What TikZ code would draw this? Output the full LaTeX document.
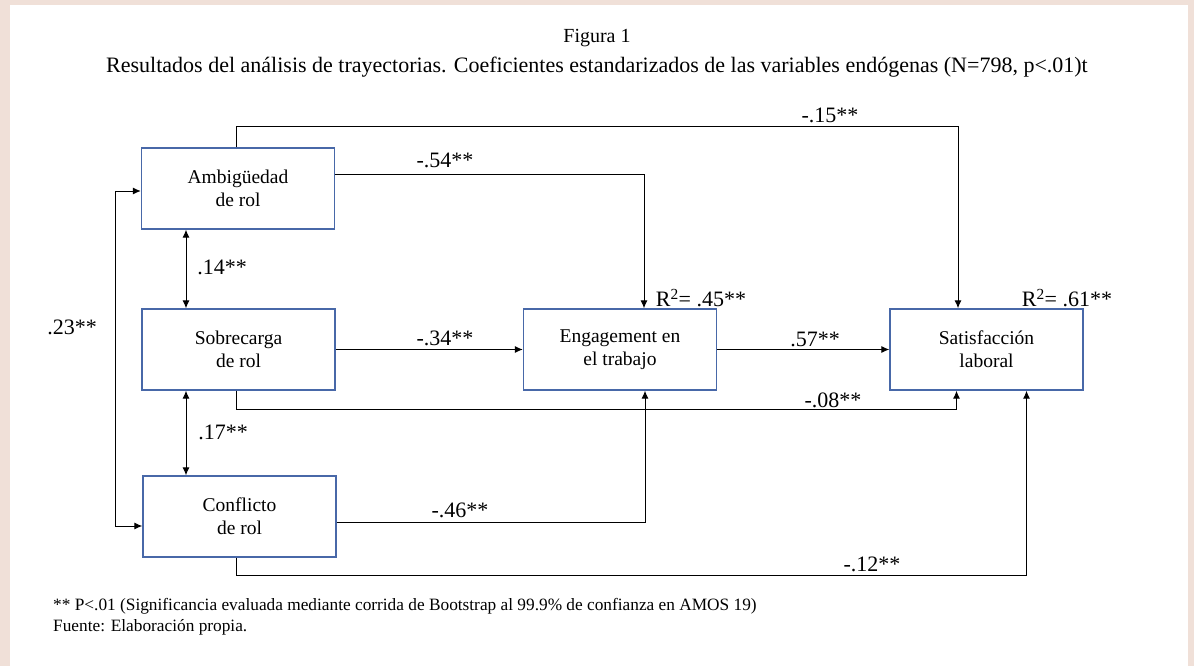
\documentclass[tikz,border=0pt]{standalone}
\usepackage{fontspec}
\setmainfont{Liberation Serif}
\usepackage{tikz}
\usetikzlibrary{arrows.meta}
\definecolor{bgpink}{RGB}{240,224,216}
\definecolor{boxblue}{RGB}{72,104,168}
\begin{document}
\begin{tikzpicture}[x=1pt,y=-1pt,
  var/.style={draw=boxblue,line width=1.4pt,fill=white,minimum width=193pt,minimum height=81pt,align=center,inner sep=0pt,font=\fontsize{19.5}{23}\selectfont},
  lbl/.style={inner sep=0pt,font=\fontsize{22}{26}\selectfont},
  arr/.style={-{Latex[length=8pt,width=7pt]},line width=1pt},
  dbl/.style={{Latex[length=8pt,width=7pt]}-{Latex[length=8pt,width=7pt]},line width=1pt}]
%\draw [help lines] (0,0) grid (1194,666);
\fill[bgpink] (0,0) rectangle (1194,666); \fill[white] (10,5) rectangle (1188,666);
\node[lbl,font=\fontsize{20}{24}\selectfont] (fig) at (597,38) {Figura 1};
\node[lbl] (tit) at (597,67) {Resultados del análisis de trayectorias. Coeficientes estandarizados de las variables endógenas (N=798, p<.01)t};
\node[var] (amb) at (238,188.5) {Ambigüedad\\de rol}; \node[var] (sob) at (238.5,349.5) {Sobrecarga\\de rol}; \node[var] (con) at (239.5,516.5) {Conflicto\\de rol};
\node[var] (eng) at (620,349.5) {Engagement en\\el trabajo}; \node[var] (sat) at (986.5,349.5) {Satisfacción\\laboral};
\node[lbl] (r45) at (701,298) {R\textsuperscript{2}= .45**}; \node[lbl] (r61) at (1067,298) {R\textsuperscript{2}= .61**};
\draw[arr] ([xshift=-2pt]amb.north) -- ++(0,-21) -| ([xshift=-28.5pt]sat.north); \node[lbl] (l15) at (830,115) {-.15**};
\draw[arr] ([yshift=14.5pt]amb.east) -| ([xshift=24pt]eng.north); \node[lbl] (l54) at (445,160) {-.54**};
\draw[dbl] ([xshift=-52pt]amb.south) -- ([xshift=-52.5pt]sob.north); \node[lbl] (l14) at (222,267) {.14**};
\draw[arr] (sob.east) -- (eng.west); \node[lbl] (l34) at (445,338) {-.34**};
\draw[arr] (eng.east) -- (sat.west); \node[lbl] (l57) at (815,339) {.57**};
\draw[arr] ([xshift=-2.5pt]sob.south) -- ++(0,19) -| ([xshift=-30pt]sat.south); \node[lbl] (l08) at (833,400) {-.08**};
\draw[dbl] ([xshift=-52.5pt]sob.south) -- ([xshift=-53.5pt]con.north); \node[lbl] (l17) at (223,432) {.17**};
\draw[arr] ([yshift=-5.5pt]con.east) -| ([xshift=25pt]eng.south); \node[lbl] (l46) at (460,510) {-.46**};
\draw[arr] ([xshift=-3.5pt]con.south) -- ++(0,18) -| ([xshift=40pt]sat.south); \node[lbl] (l12) at (872,564) {-.12**};
\draw[dbl] ([yshift=-2.5pt]amb.west) -- ++(-25,0) |- ([yshift=-9.5pt]con.west); \node[lbl] (l23) at (72,327) {.23**};
\node[lbl,anchor=west,font=\fontsize{17.3}{20}\selectfont] (nota) at (53,606) {** P<.01 (Significancia evaluada mediante corrida de Bootstrap al 99.9\% de confianza en AMOS 19)};
\node[lbl,anchor=west,font=\fontsize{17.3}{20}\selectfont] (fuente) at (53,627) {Fuente: Elaboración propia.};
\end{tikzpicture}
\end{document}
